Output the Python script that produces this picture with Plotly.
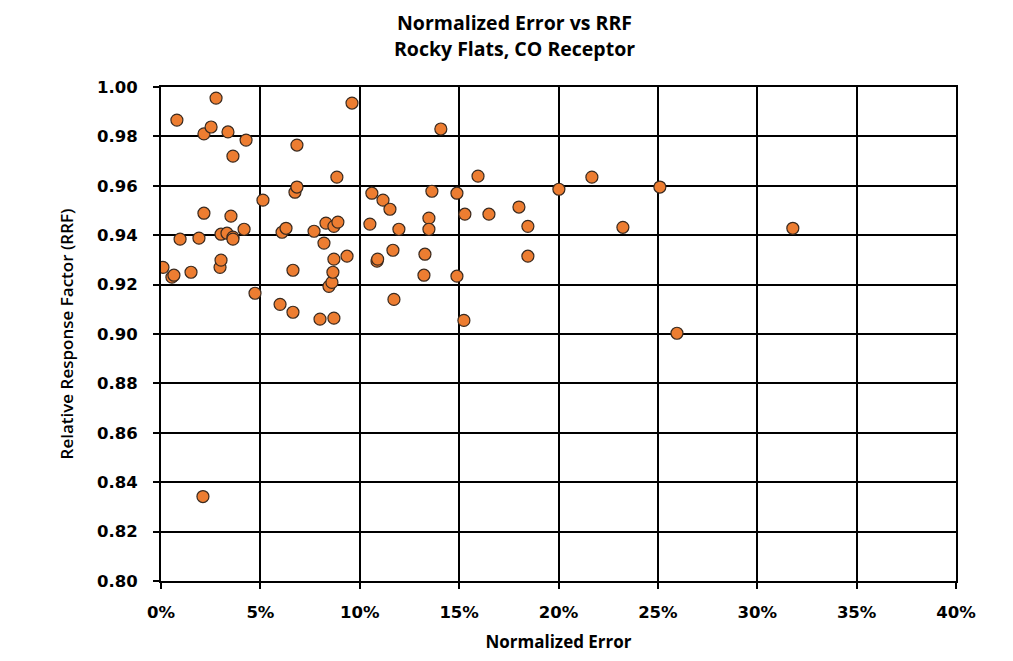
import plotly.graph_objects as go

normalized_error = [0.10, 0.55, 0.65, 0.80, 0.96, 1.51, 1.91, 2.16, 2.16, 2.11,
                    2.52, 2.77, 2.97, 3.02, 3.02, 3.32, 3.37, 3.52, 3.62, 3.62,
                    3.62, 4.28, 4.18, 4.73, 5.13, 5.99, 6.09, 6.29, 6.64, 6.64,
                    6.74, 6.84, 6.84, 7.70, 8.00, 8.20, 8.30, 8.45, 8.60, 8.65,
                    8.70, 8.70, 8.70, 8.90, 8.85, 9.36, 9.61, 10.51, 10.61, 10.87,
                    10.90, 11.17, 11.52, 11.67, 11.72, 11.97, 13.28, 13.23, 13.48, 13.48,
                    13.63, 14.08, 14.89, 14.89, 15.24, 15.29, 15.95, 16.50, 18.01, 18.46,
                    18.46, 20.02, 21.68, 23.24, 25.10, 25.96, 31.79]
rrf = [0.9270, 0.9230, 0.9238, 0.9866, 0.9384, 0.9250, 0.9388, 0.9810, 0.9489, 0.8342,
       0.9838, 0.9955, 0.9270, 0.9299, 0.9404, 0.9408, 0.9818, 0.9477, 0.9392, 0.9384,
       0.9720, 0.9785, 0.9424, 0.9165, 0.9542, 0.9120, 0.9412, 0.9428, 0.9258, 0.9088,
       0.9574, 0.9595, 0.9765, 0.9416, 0.9060, 0.9368, 0.9449, 0.9193, 0.9209, 0.9250,
       0.9303, 0.9064, 0.9436, 0.9453, 0.9635, 0.9315, 0.9935, 0.9445, 0.9570, 0.9295,
       0.9303, 0.9542, 0.9505, 0.9339, 0.9140, 0.9424, 0.9323, 0.9238, 0.9469, 0.9424,
       0.9578, 0.9830, 0.9570, 0.9234, 0.9055, 0.9485, 0.9639, 0.9485, 0.9514, 0.9436,
       0.9315, 0.9586, 0.9635, 0.9432, 0.9595, 0.9003, 0.9428]

x_vals = [v / 100 for v in normalized_error]
x_ticks = [0, 0.05, 0.10, 0.15, 0.20, 0.25, 0.30, 0.35, 0.40]
y_ticks = [0.80, 0.82, 0.84, 0.86, 0.88, 0.90, 0.92, 0.94, 0.96, 0.98, 1.00]

title_font = "'Open Sans', sans-serif"
tick_font = "Verdana, 'DejaVu Sans', sans-serif"

fig = go.Figure()
fig.add_trace(go.Scatter(
    x=x_vals, y=rrf, mode="markers",
    marker=dict(color="#ED7D31", size=12, line=dict(color="#3a2a1f", width=1.2)),
    showlegend=False,
))

fig.update_layout(
    width=1013, height=661,
    paper_bgcolor="white", plot_bgcolor="white",
    margin=dict(l=153, r=65, t=79, b=88),
    title=dict(text="<b>Normalized Error vs RRF<br>Rocky Flats, CO Receptor</b>",
               x=0.5, xanchor="center", y=0.966, yanchor="top",
               font=dict(family=title_font, size=19.5, color="black")),
)
fig.update_xaxes(
    range=[0, 0.40], tickvals=x_ticks, tickformat=".0%",
    showgrid=True, gridcolor="black", gridwidth=2,
    showline=True, linecolor="black", linewidth=2, mirror=True,
    ticks="outside", ticklen=6, tickcolor="black", tickwidth=1.5,
    ticklabelstandoff=9,
    zeroline=False,
    tickfont=dict(family=tick_font, size=16.5, color="black", weight="bold"),
    title=dict(text="<b>Normalized Error</b>", standoff=15,
               font=dict(family=title_font, size=17, color="black")),
)
fig.update_yaxes(
    range=[0.80, 1.00], tickvals=y_ticks, tickformat=".2f",
    showgrid=True, gridcolor="black", gridwidth=2,
    showline=True, linecolor="black", linewidth=2, mirror=True,
    ticks="outside", ticklen=6, tickcolor="black", tickwidth=1.5,
    ticklabelstandoff=12,
    zeroline=False,
    tickfont=dict(family=tick_font, size=16.5, color="black", weight="bold"),
    title=dict(text="Relative Response Factor (RRF)", standoff=19,
               font=dict(family=title_font, size=17, color="black", weight=600)),
)

fig.write_html("out.html")
